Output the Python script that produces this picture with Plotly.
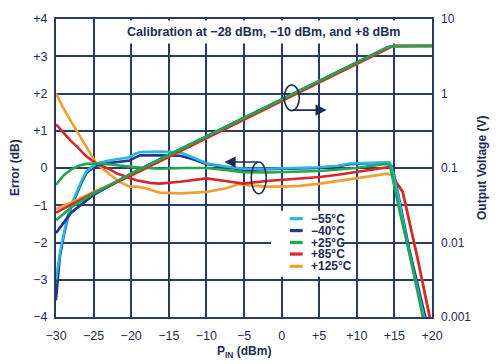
import plotly.graph_objects as go

# ---------------- data ----------------
temps = ["\u221255\u00b0C", "\u221240\u00b0C", "+25\u00b0C", "+85\u00b0C", "+125\u00b0C"]
colors = ["#2bb5e3", "#1c3a8e", "#20a84c", "#d9262b", "#f0a032"]

# error curves (dB) vs PIN (dBm)
p_m55 = [-30, -29.5, -29, -28.5, -28, -27.3, -26.5, -25.9, -25, -24.6, -23, -21, -20.2, -19.5, -18.8, -16, -13.5, -12, -10, -7.5, -5, -2, 0, 2.5, 5, 7.5, 9, 11, 13, 14.3, 14.6, 15.5, 17, 19.0, 19.5]
e_m55 = [-3.0, -2.3, -1.8, -1.35, -1.0, -0.65, -0.3, -0.08, 0.06, 0.12, 0.2, 0.25, 0.29, 0.38, 0.43, 0.44, 0.42, 0.3, 0.13, 0.04, -0.02, -0.02, -0.01, 0.0, 0.02, 0.06, 0.12, 0.13, 0.15, 0.15, 0.05, -0.75, -2.3, -4.0, -4.5]

p_m40 = [-30, -29.5, -29, -28.5, -28, -27.3, -26.5, -25.9, -25, -24.6, -23, -21, -20.2, -19.5, -18.8, -16, -13.5, -12, -10, -7.5, -5, -2, 0, 2.5, 5, 7.5, 9, 11, 13, 14.3, 14.7, 15.5, 17, 19.2, 19.7]
e_m40 = [-3.55, -2.4, -1.85, -1.4, -1.05, -0.72, -0.35, -0.12, 0.02, 0.07, 0.13, 0.18, 0.2, 0.28, 0.34, 0.34, 0.33, 0.25, 0.11, 0.03, -0.05, -0.03, -0.02, -0.02, 0.0, 0.05, 0.1, 0.12, 0.14, 0.14, 0.03, -0.7, -2.2, -4.0, -4.5]

p_p25 = [-30, -29, -28, -27, -26, -25, -23, -21.9, -20, -18, -16, -13, -10, -7.5, -5.1, -2, 0, 2.4, 5, 7.5, 9.9, 12, 13.9, 14.4, 15.0, 15.7, 17, 18.8, 19.3]
e_p25 = [-0.45, -0.2, -0.04, 0.06, 0.11, 0.12, 0.1, 0.07, 0.03, 0.0, -0.02, 0.0, 0.0, -0.05, -0.11, -0.12, -0.11, -0.11, -0.08, -0.04, 0.0, 0.06, 0.11, 0.07, -0.5, -1.17, -2.3, -4.0, -4.5]

p_p85 = [-30, -29, -28, -27.25, -26, -24.6, -23, -21.9, -20.5, -19.3, -17.5, -16.2, -13.5, -12, -10, -7.5, -5.1, -2, 0, 2.4, 5.1, 7.5, 9.9, 12, 14.4, 14.8, 15.2, 16.1, 18, 19.7, 20]
e_p85 = [1.17, 0.93, 0.72, 0.58, 0.32, 0.11, -0.02, -0.15, -0.25, -0.33, -0.4, -0.42, -0.37, -0.33, -0.28, -0.35, -0.42, -0.35, -0.32, -0.28, -0.24, -0.18, -0.11, -0.05, 0.03, -0.1, -0.37, -0.64, -2.35, -4.0, -4.3]

p_p125 = [-30, -29, -28, -27, -26, -25, -24.6, -23, -21.5, -20.2, -19.2, -18, -16.2, -13.5, -12, -10, -7.5, -5.6, -4.7, -2, 0, 2.4, 5.1, 7.5, 9.9, 12, 14.1, 14.6, 15.2, 16.1, 18, 19.7, 20]
e_p125 = [2.0, 1.6, 1.25, 0.92, 0.6, 0.25, 0.11, -0.15, -0.38, -0.5, -0.5, -0.55, -0.66, -0.68, -0.67, -0.64, -0.55, -0.43, -0.46, -0.5, -0.5, -0.48, -0.42, -0.35, -0.28, -0.22, -0.15, -0.2, -0.37, -0.64, -2.35, -4.0, -4.3]

# output voltage (V) vs PIN (dBm)
p_v = [-30, -28, -25, -20, -15, -10, -5, 0, 5, 10, 12, 13, 14, 14.5, 15, 20]
v_m55 = [0.01337, 0.02512, 0.04365, 0.08414, 0.1496, 0.2661, 0.4732, 0.8414, 1.496, 2.661, 3.350, 3.758, 4.121, 4.28, 4.35, 4.35]
v_m40 = [0.01337, 0.02512, 0.04365, 0.08414, 0.1496, 0.2661, 0.4732, 0.8414, 1.496, 2.661, 3.350, 3.758, 4.121, 4.28, 4.35, 4.35]
v_p25 = [0.01995, 0.02951, 0.04571, 0.08414, 0.1496, 0.2661, 0.4732, 0.8414, 1.496, 2.661, 3.350, 3.758, 4.121, 4.28, 4.35, 4.35]
v_p85 = [0.02512, 0.03236, 0.04624, 0.07943, 0.1413, 0.2512, 0.4467, 0.7943, 1.413, 2.512, 3.162, 3.565, 3.963, 4.20, 4.33, 4.38]
v_p125 = [0.02818, 0.03428, 0.04786, 0.07943, 0.1413, 0.2512, 0.4467, 0.7943, 1.413, 2.512, 3.162, 3.565, 3.963, 4.20, 4.33, 4.38]

x_ticks = [-30, -25, -20, -15, -10, -5, 0, 5, 10, 15, 20]
x_labels = ["\u221230", "\u221225", "\u221220", "\u221215", "\u221210", "\u22125", "0", "+5", "+10", "+15", "+20"]
y_ticks = [4, 3, 2, 1, 0, -1, -2, -3, -4]
y_labels = ["+4", "+3", "+2", "+1", "0", "\u22121", "\u22122", "\u22123", "\u22124"]
y2_ticks = [10, 1, 0.1, 0.01, 0.001]
y2_labels = ["10", "1", "0.1", "0.01", "0.001"]

title_text = "Calibration at \u221228 dBm, \u221210 dBm, and +8 dBm"

# ---------------- figure ----------------
NAVY = "#1e2b55"
GRID = "#2a3b66"
FONT = "Liberation Sans"

err = {
    0: (p_m55, e_m55), 1: (p_m40, e_m40), 2: (p_p25, e_p25),
    3: (p_p85, e_p85), 4: (p_p125, e_p125),
}
volt = {0: v_m55, 1: v_m40, 2: v_p25, 3: v_p85, 4: v_p125}

fig = go.Figure()
# error traces (draw order: orange, red, dark blue, light blue, green)
for i in [4, 3, 1, 0, 2]:
    px, ev = err[i]
    fig.add_trace(go.Scatter(x=px, y=ev, mode="lines", line=dict(color=colors[i], width=2.6),
                             name=temps[i], showlegend=False, yaxis="y"))
# voltage traces on right log axis
for i in [0, 1, 4, 3, 2]:
    fig.add_trace(go.Scatter(x=p_v, y=volt[i], mode="lines", line=dict(color=colors[i], width=2.6),
                             showlegend=False, yaxis="y2"))

axfont = dict(family=FONT, size=12.5, color=NAVY)
fig.update_layout(
    width=500, height=364,
    margin=dict(l=56, r=68, t=15, b=47),
    paper_bgcolor="white", plot_bgcolor="white",
    showlegend=False,
    xaxis=dict(range=[-30, 20], tickvals=x_ticks, ticktext=x_labels, showgrid=True,
               gridcolor=GRID, gridwidth=1.7, zeroline=False, showline=True, mirror=True,
               linecolor=GRID, linewidth=2.2, tickfont=axfont, ticks="", ticklabelstandoff=6),
    yaxis=dict(range=[-4, 4], tickvals=y_ticks, ticktext=y_labels, showgrid=True,
               gridcolor=GRID, gridwidth=1.7, zeroline=False, showline=True, mirror=True,
               linecolor=GRID, linewidth=2.2, tickfont=axfont, ticks="", ticklabelstandoff=4),
    yaxis2=dict(type="log", range=[-3, 1], overlaying="y", side="right", tickvals=y2_ticks,
                ticktext=y2_labels, showgrid=False, zeroline=False, showline=False,
                tickfont=dict(family=FONT, size=12, color=NAVY), ticks="", ticklabelstandoff=8),
)

ann = []
# title inside plot
ann.append(dict(x=-2.4, y=3.65, xref="x", yref="y", text="<b>" + title_text + "</b>", showarrow=False,
                font=dict(family=FONT, size=12.5, color=NAVY), bgcolor="white", borderpad=4))
# axis titles
ann.append(dict(x=0.0, y=0.5, xref="paper", yref="paper", xshift=-50, text="<b>Error (dB)</b>",
                textangle=-90, showarrow=False, font=dict(family=FONT, size=12, color=NAVY)))
ann.append(dict(x=1.0, y=0.5, xref="paper", yref="paper", xshift=59, text="<b>Output Voltage (V)</b>",
                textangle=-90, showarrow=False, font=dict(family=FONT, size=12, color=NAVY)))
ann.append(dict(x=0.5, y=0.0, xref="paper", yref="paper", yshift=-35, yanchor="middle",
                text="<b>P<sub>IN</sub> (dBm)</b>", showarrow=False,
                font=dict(family=FONT, size=12, color=NAVY)))
# arrows
ann.append(dict(x=6.0, y=1.555, ax=1.34, ay=1.555, xref="x", yref="y", axref="x", ayref="y",
                text="", showarrow=True, arrowhead=2, arrowsize=1.4, arrowwidth=1.6, arrowcolor=NAVY))
ann.append(dict(x=-7.6, y=0.16, ax=-3.04, ay=0.16, xref="x", yref="y", axref="x", ayref="y",
                text="", showarrow=True, arrowhead=2, arrowsize=1.4, arrowwidth=1.6, arrowcolor=NAVY))

shapes = []
shapes.append(dict(type="circle", xref="x", yref="y", x0=0.35, x1=2.35, y0=1.54, y1=2.23,
                   line=dict(color=NAVY, width=1.6)))
shapes.append(dict(type="circle", xref="x", yref="y", x0=-4.04, x1=-2.04, y0=-0.69, y1=0.16,
                   line=dict(color=NAVY, width=1.6)))
# legend box
shapes.append(dict(type="rect", xref="x", yref="y", x0=-1.4, x1=7.9, y0=-2.92, y1=-1.15,
                   fillcolor="white", line=dict(width=0), layer="above"))
leg_y = [-1.36, -1.68, -2.0, -2.31, -2.64]
for i in range(5):
    shapes.append(dict(type="line", xref="x", yref="y", x0=1.1, x1=2.8, y0=leg_y[i], y1=leg_y[i],
                       line=dict(color=colors[i], width=3.2), layer="above"))
    ann.append(dict(x=3.6, y=leg_y[i], xref="x", yref="y", text="<b>" + temps[i] + "</b>",
                    showarrow=False, xanchor="left", font=dict(family=FONT, size=12, color=NAVY)))

fig.update_layout(annotations=ann, shapes=shapes)
fig.write_html("out.html", config={"displayModeBar": False},
               post_script="document.body.style.margin='0';document.body.style.overflow='hidden';")
